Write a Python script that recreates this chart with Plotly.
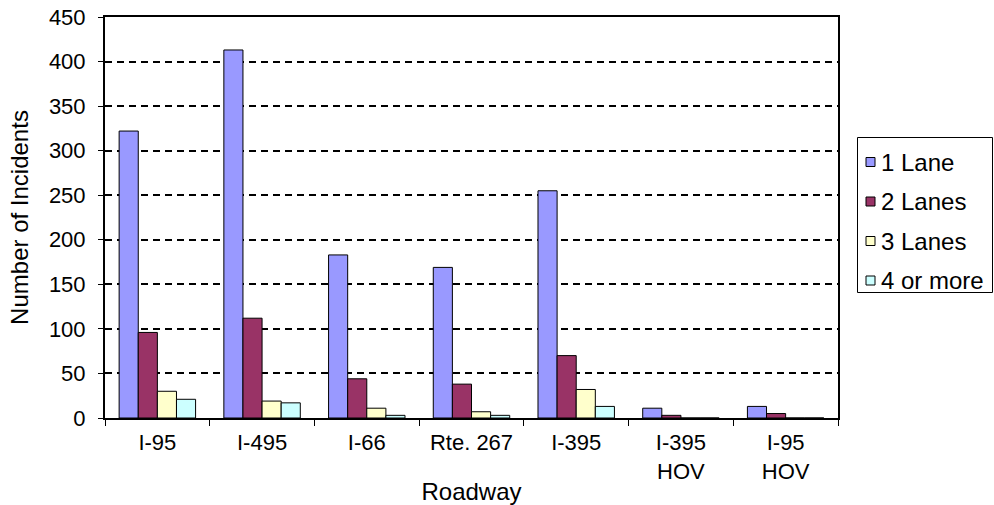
import plotly.graph_objects as go

roadways = ["I-95", "I-495", "I-66", "Rte. 267", "I-395", "I-395<br>HOV", "I-95<br>HOV"]
lane_1 = [322, 413, 183, 169, 255, 11, 13]
lanes_2 = [96, 112, 44, 38, 70, 3, 5]
lanes_3 = [30, 19, 11, 7, 32, 0, 0]
lanes_4_plus = [21, 17, 3, 3, 13, 0, 0]
y_ticks = [0, 50, 100, 150, 200, 250, 300, 350, 400, 450]

series_names = ["1 Lane", "2 Lanes", "3 Lanes", "4 or more"]
series_values = [lane_1, lanes_2, lanes_3, lanes_4_plus]
series_colors = ["#9999FF", "#993366", "#FFFFCC", "#CCFFFF"]

W, H = 994, 505
M_L, M_R, M_T, M_B = 105, 156, 17, 87
PLOT_W = W - M_L - M_R
PLOT_H = H - M_T - M_B


def px_to_paper_x(px):
    return (px - M_L) / PLOT_W


def px_to_paper_y(py):
    return (H - M_B - py) / PLOT_H


FONT_FAMILY = "Liberation Sans, Arial, sans-serif"
tick_font = dict(family=FONT_FAMILY, size=22, color="#000000")
title_font = dict(family=FONT_FAMILY, size=24, color="#000000")
legend_font = dict(family=FONT_FAMILY, size=24, color="#000000")

fig = go.Figure()
for name, vals, color in zip(series_names, series_values, series_colors):
    fig.add_trace(go.Bar(
        x=roadways, y=vals, name=name,
        marker=dict(color=color, line=dict(color="#000000", width=1)),
        showlegend=False,
    ))

# Boxed legend on the right: swatch + label per series
shapes = [dict(
    type="rect", xref="paper", yref="paper",
    x0=px_to_paper_x(857.5), x1=px_to_paper_x(992.5),
    y0=px_to_paper_y(137.5), y1=px_to_paper_y(292.5),
    line=dict(color="#000000", width=1), fillcolor="white", layer="above",
)]
annotations = []
for i, (name, color) in enumerate(zip(series_names, series_colors)):
    cy = 162 + i * 39.5
    shapes.append(dict(
        type="rect", xref="paper", yref="paper",
        x0=px_to_paper_x(866), x1=px_to_paper_x(875),
        y0=px_to_paper_y(cy - 4.5), y1=px_to_paper_y(cy + 4.5),
        line=dict(color="#000000", width=1), fillcolor=color, layer="above",
    ))
    annotations.append(dict(
        xref="paper", yref="paper",
        x=px_to_paper_x(879), y=px_to_paper_y(cy),
        xanchor="left", yanchor="middle", showarrow=False,
        text=name, font=legend_font,
    ))

fig.update_layout(
    width=W, height=H,
    margin=dict(l=M_L, r=M_R, t=M_T, b=M_B),
    paper_bgcolor="white", plot_bgcolor="white",
    barmode="group", bargap=0.27, bargroupgap=0,
    font=tick_font,
    shapes=shapes,
    annotations=annotations,
    xaxis=dict(
        title=dict(text="Roadway", font=title_font, standoff=0),
        tickson="boundaries", ticks="outside", ticklen=6, tickcolor="#000000",
        showline=True, linecolor="#000000", linewidth=2, mirror=True,
        tickfont=tick_font, ticklabelstandoff=4, automargin=False,
    ),
    yaxis=dict(
        title=dict(text="Number of Incidents", font=title_font, standoff=13),
        range=[0, 450], tickvals=y_ticks,
        ticks="outside", ticklen=5, tickcolor="#000000",
        showline=True, linecolor="#000000", linewidth=2, mirror=True,
        showgrid=True, gridcolor="#000000", gridwidth=2, griddash="7px,5px",
        zeroline=False, tickfont=tick_font, ticklabelstandoff=8,
        automargin=False,
    ),
)

fig.write_html("out.html")
